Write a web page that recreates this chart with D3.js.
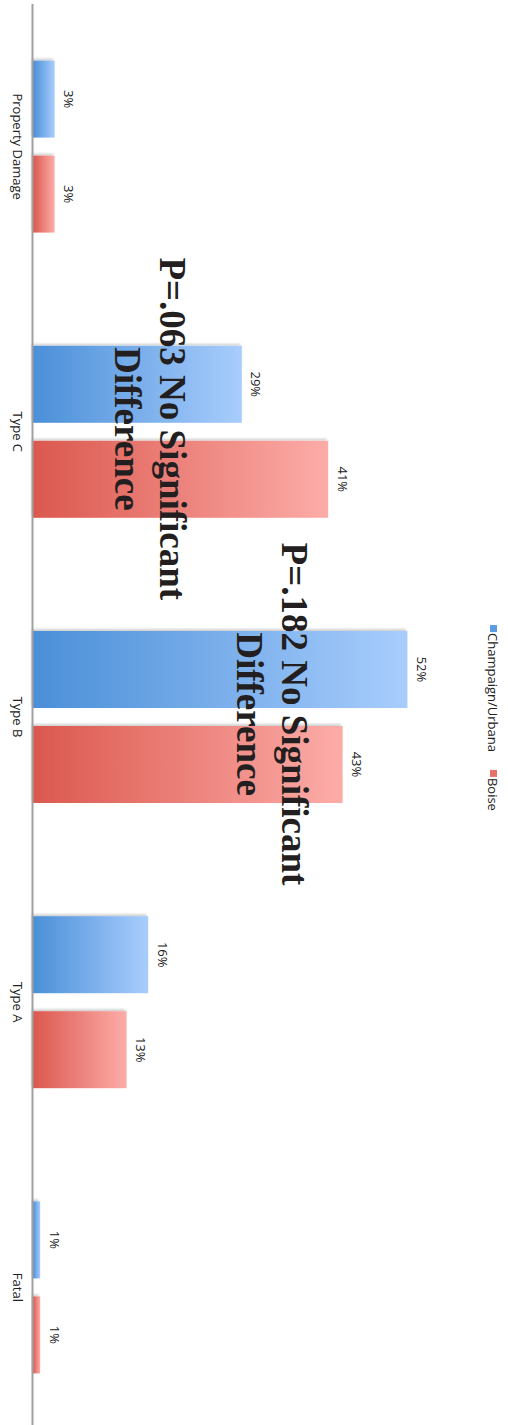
<!DOCTYPE html>
<html>
<head>
<meta charset="utf-8">
<script src="https://cdn.jsdelivr.net/npm/d3@7"></script>
<style>
  html, body { margin: 0; padding: 0; background: #fff; }
  svg { display: block; }
</style>
</head>
<body>
<svg id="chart" width="508" height="1425"></svg>
<script>
// Injury categories along the axis
const categories = ["Property Damage", "Type C", "Type B", "Type A", "Fatal"];
// Cities compared
const seriesNames = ["Champaign/Urbana", "Boise"];
// Share of crashes (%) for each category
const champaignValues = [3, 29, 52, 16, 1];
const boiseValues = [3, 41, 43, 13, 1];
// Significance notes placed over category pairs
const noteCategories = ["Type C", "Type B"];
const noteLines = [
  ["P=.063 No Significant", "Difference"],
  ["P=.182 No Significant", "Difference"]
];

const seriesValues = [champaignValues, boiseValues];
const rows = categories.map((c, i) => ({
  category: c,
  values: seriesNames.map((s, j) => ({ series: s, value: seriesValues[j][i] }))
}));

const svg = d3.select("#chart");
// The chart is laid out as an ordinary column chart, then turned a quarter
// clockwise so that the columns grow to the right.
const W = 1425, H = 508;
const baseline = 475;
const g = svg.append("g").attr("transform", `translate(${H},0) rotate(90)`);

const defs = svg.append("defs");
const grads = {
  "Champaign/Urbana": ["#4a8fd8", "#a8cdfd"],
  "Boise": ["#db584e", "#fdaca8"]
};
Object.entries(grads).forEach(([name, [c0, c1]], k) => {
  const lg = defs.append("linearGradient")
    .attr("id", "grad" + k)
    .attr("x1", 0).attr("y1", 1).attr("x2", 0).attr("y2", 0);
  lg.append("stop").attr("offset", "0%").attr("stop-color", c0);
  lg.append("stop").attr("offset", "100%").attr("stop-color", c1);
});
const shadow = defs.append("filter").attr("id", "barShadow")
  .attr("x", "-20%").attr("y", "-20%").attr("width", "140%").attr("height", "140%");
shadow.append("feDropShadow")
  .attr("dx", -2).attr("dy", 1.5).attr("stdDeviation", 1.3)
  .attr("flood-color", "#000").attr("flood-opacity", 0.18);

const color = d3.scaleOrdinal(seriesNames, ["url(#grad0)", "url(#grad1)"]);
const swatch = d3.scaleOrdinal(seriesNames, ["#5b9be3", "#e8716a"]);

const x = d3.scaleBand(categories, [4, 1430]).padding(0);
const groupWidth = 172;
const xs = d3.scaleBand(seriesNames, [0, groupWidth]).paddingInner(18 / 95).paddingOuter(0);
const groupOffset = (x.bandwidth() - groupWidth) / 2;
const y = d3.scaleLinear([0, 60], [baseline, baseline - 432]);

const sans = "'Open Sans', 'Noto Sans', sans-serif";

// Bars
const groups = g.selectAll("g.cat").data(rows).join("g")
  .attr("class", "cat")
  .attr("transform", d => `translate(${x(d.category) + groupOffset},0)`);

groups.selectAll("rect").data(d => d.values).join("rect")
  .attr("x", d => xs(d.series))
  .attr("width", xs.bandwidth())
  .attr("y", d => y(d.value))
  .attr("height", d => y(0) - y(d.value))
  .attr("fill", d => color(d.series))
  .attr("filter", "url(#barShadow)");

// Value labels
groups.selectAll("text.val").data(d => d.values).join("text")
  .attr("class", "val")
  .attr("x", d => xs(d.series) + xs.bandwidth() / 2)
  .attr("y", d => y(d.value) - 14)
  .attr("dy", "0.35em")
  .attr("text-anchor", "middle")
  .style("font-family", sans)
  .style("font-size", "13px")
  .attr("fill", "#222")
  .text(d => d3.format(".0f")(d.value) + "%");

// Category axis
const axis = g.append("g").attr("transform", `translate(0,${baseline + 0.5})`)
  .call(d3.axisBottom(x).tickSize(0).tickPadding(10));
axis.select(".domain").attr("stroke", "#a0a0a0").attr("stroke-width", 2)
  .attr("d", `M4,0H${W}`);
axis.selectAll("text")
  .style("font-family", sans)
  .style("font-size", "13px")
  .attr("fill", "#222");

// Legend
const legend = g.append("g");
let cursor = 0;
seriesNames.forEach((s, i) => {
  const item = legend.append("g").attr("transform", `translate(${cursor},0)`);
  item.append("rect").attr("x", 0).attr("y", -4).attr("width", 7).attr("height", 7)
    .attr("fill", swatch(s));
  const t = item.append("text").attr("x", 8).attr("y", 0).attr("dy", "0.35em")
    .style("font-family", sans).style("font-size", "13px").attr("fill", "#222")
    .text(s);
  cursor += 8 + t.node().getComputedTextLength() + 18;
});
const legendWidth = cursor - 18;
legend.attr("transform", `translate(${718 - legendWidth / 2},15)`);

// Significance notes
const noteBaselines = [[348, 393], [226, 271]];
noteCategories.forEach((c, i) => {
  const cx = x(c) + x.bandwidth() / 2 - 3;
  noteLines[i].forEach((line, k) => {
    g.append("text")
      .attr("x", cx)
      .attr("y", noteBaselines[i][k])
      .attr("text-anchor", "middle")
      .style("font-family", "'Liberation Serif', 'Times New Roman', serif")
      .style("font-weight", "bold")
      .style("font-size", "37px")
      .attr("fill", "#231f20")
      .text(line);
  });
});
</script>
</body>
</html>
